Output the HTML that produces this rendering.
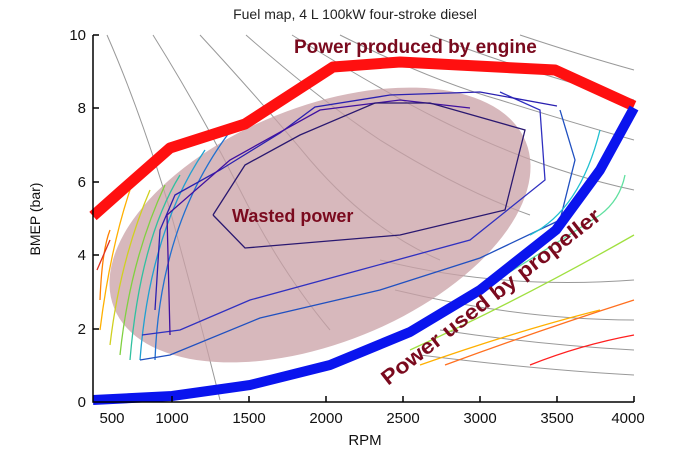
<!DOCTYPE html>
<html><head><meta charset="utf-8"><style>
body{margin:0;background:#fff;}
svg{display:block;font-family:"Liberation Sans",sans-serif;}
</style></head><body>
<svg width="700" height="460" viewBox="0 0 700 460">
<rect width="700" height="460" fill="#fff"/>
<text x="355" y="19" font-size="14" text-anchor="middle" fill="#222">Fuel map, 4 L 100kW four-stroke diesel</text>
<g fill="none" stroke="#999" stroke-width="1">
<path d="M107,35 Q140,110 170,210 Q200,320 220,400"/>
<path d="M153,35 Q200,110 240,190 Q280,270 330,330"/>
<path d="M200,35 Q260,100 310,160 Q370,230 440,260"/>
<path d="M246,35 Q320,100 380,140 Q460,190 530,215"/>
<path d="M292,35 Q380,90 440,120 Q540,170 634,190"/>
<path d="M340,35 Q430,80 500,100 Q580,125 634,140"/>
<path d="M430,35 Q520,70 634,100"/>
<path d="M520,35 Q580,55 634,70"/>
<path d="M440,330 Q540,345 634,350"/>
<path d="M420,355 Q540,370 634,375"/>
<path d="M380,260 Q500,290 634,280"/>
<path d="M395,290 Q520,320 634,320"/>
</g>
<ellipse cx="320" cy="225" rx="222" ry="118" transform="rotate(-22 320 225)" fill="#c9a0a6" opacity="0.75"/>
<g fill="none" stroke-width="1.3">
<path d="M100,330 Q110,250 130,190" stroke="#ffb000"/>
<path d="M110,345 Q120,260 150,190" stroke="#d0d020"/>
<path d="M120,355 Q130,260 165,185" stroke="#80d040"/>
<path d="M130,360 Q140,240 180,175" stroke="#30c0a0"/>
<path d="M140,360 Q150,230 205,150" stroke="#20a0d0"/>
<path d="M155,360 Q160,220 235,125" stroke="#2070d0"/>
<path d="M140,360 L170,355 L260,318 L380,290 L480,258 L560,220 L575,160 L560,110" stroke="#2050c0"/>
<path d="M142,335 L180,330 L250,300 L360,270 L470,240 L545,180 L540,110 L500,92" stroke="#3030c0"/>
<path d="M155,310 L160,230 L175,195 L220,170 L280,133 L315,107 L390,95 L480,92 L557,106" stroke="#2a20b0"/>
<path d="M170,335 L167,215 L230,160 L320,110 L400,100 L470,108" stroke="#4010a0"/>
<path d="M213,215 L245,165 L300,135 L375,103 L430,103 L525,130 L505,210 L400,235 L245,248 L213,215" stroke="#2a1870"/>
<path d="M100,300 Q102,250 110,230" stroke="#ff8000"/>
<path d="M97,270 L110,240" stroke="#e03020"/>
<path d="M420,365 Q520,330 600,310" stroke="#ffb000"/>
<path d="M445,365 Q540,330 634,300" stroke="#ff7020"/>
<path d="M530,365 Q580,345 634,335" stroke="#ff2020"/>
<path d="M410,350 Q520,300 634,235" stroke="#a0e040"/>
<path d="M395,340 Q500,280 600,215 Q620,200 625,175" stroke="#60e0a0"/>
<path d="M530,235 Q580,210 600,130" stroke="#20c0d0"/>
</g>
<path d="M93,216 L120,192 L170,148 L245,124 L333,67 L400,62 L555,70 L634,106" fill="none" stroke="#ff1010" stroke-width="11" stroke-linejoin="round"/>
<path d="M93,400 L172,396 L250,385 L330,365 L410,332 L480,290 L556,230 L600,170 L634,108" fill="none" stroke="#0a14ee" stroke-width="10" stroke-linejoin="round"/>
<g stroke="#000" stroke-width="1.5" fill="none">
<path d="M93,35 L93,402 L634,402"/>
<path d="M93,35 H99 M93,108 H99 M93,182 H99 M93,255 H99 M93,329 H99"/>
<path d="M172,402 V396 M249,402 V396 M326,402 V396 M403,402 V396 M480,402 V396 M557,402 V396 M634,402 V396"/>
</g>
<g font-size="15" fill="#111" text-anchor="end">
<text x="86" y="40">10</text><text x="86" y="113">8</text><text x="86" y="187">6</text>
<text x="86" y="260">4</text><text x="86" y="334">2</text><text x="86" y="407">0</text>
</g>
<g font-size="15" fill="#111" text-anchor="middle">
<text x="112" y="423">500</text><text x="172" y="423">1000</text><text x="249" y="423">1500</text>
<text x="326" y="423">2000</text><text x="403" y="423">2500</text><text x="480" y="423">3000</text>
<text x="557" y="423">3500</text><text x="628" y="423">4000</text>
<text x="365" y="445">RPM</text>
</g>
<text x="0" y="0" font-size="14" fill="#111" text-anchor="middle" transform="translate(40 219) rotate(-90)">BMEP (bar)</text>
<g fill="#7a0a1e" font-weight="bold">
<text x="294" y="53" font-size="19">Power produced by engine</text>
<text x="232" y="222" font-size="18">Wasted power</text>
<text x="0" y="0" font-size="21" textLength="272" lengthAdjust="spacingAndGlyphs" transform="translate(388 386) rotate(-38)">Power used by propeller</text>
</g>
</svg>
</body></html>
